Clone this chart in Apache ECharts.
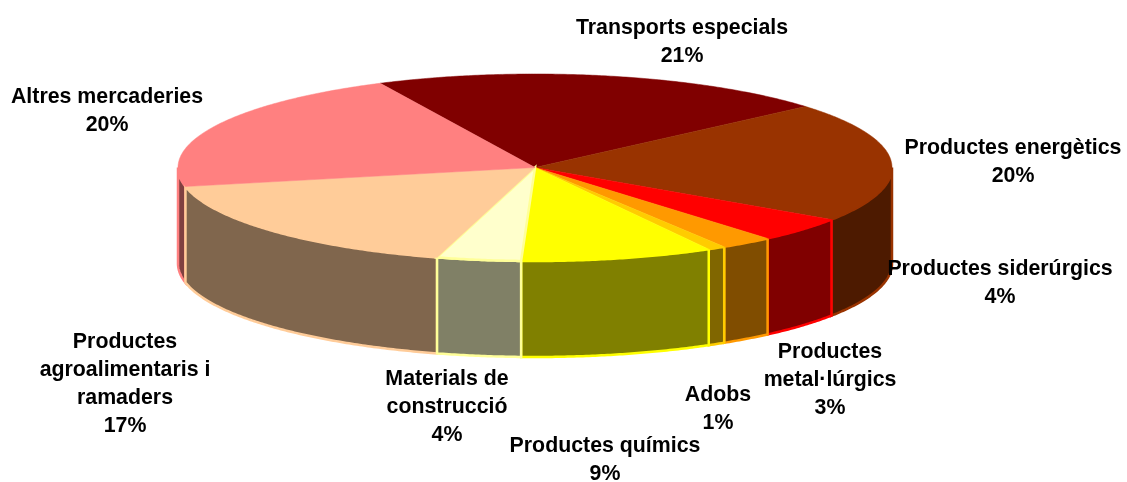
<!DOCTYPE html>
<html>
<head>
<meta charset="utf-8">
<style>html,body{margin:0;padding:0;background:#fff}#c{width:1127px;height:482px}</style>
<script src="https://cdn.jsdelivr.net/npm/echarts@6/dist/echarts.min.js"></script>
</head>
<body>
<div id="c"></div>
<script>
// Data, clockwise from the slice that starts at the back left
const categories = ['Transports especials','Productes energètics','Productes siderúrgics','Productes\nmetal·lúrgics','Adobs','Productes químics','Materials de\nconstrucció','Productes\nagroalimentaris i\nramaders','Altres mercaderies'];
// slice sizes as drawn in the picture
const values = [20.8,20.7,4.3,2.4,0.8,8.7,3.8,17.3,21.1];
// percentages as printed in the picture
const percentLabels = ['21%','20%','4%','3%','1%','9%','4%','17%','20%'];

// Styling and layout, separate from the data
const topColors = ['#800000','#993300','#FF0000','#FF9900','#FFCC00','#FFFF00','#FFFFCC','#FFCC99','#FF8080'];
const strokeColors = ['#800000','#993300','#FF0000','#FF9900','#FFCC00','#FFFF00','#FFFF99','#FFCC99','#FF8080'];
const wallColors = ['#400000','#4D1A00','#800000','#804D00','#806600','#808000','#808066','#80664D','#804040'];
const labelCentres = [[682,28],[1013,148],[1000,269],[830,352],[718,395],[605,446],[447,379],[125,342],[107,97]];
const CX = 535, CY = 167.5, RX = 357, RY = 93.5, DEPTH = 96, START = -25.7;
const LINE = 28;

const total = values.reduce((a, b) => a + b, 0);
const angles = [];
values.reduce((acc, v) => { angles.push([acc, acc + v / total * 360]); return acc + v / total * 360; }, START);

const pt = (t, dy) => {
  const r = t * Math.PI / 180;
  return [CX + RX * Math.sin(r), CY - RY * Math.cos(r) + (dy || 0)];
};
const arc = (a, b, dy) => {
  const n = Math.max(2, Math.ceil(Math.abs(b - a) / 0.5));
  const out = [];
  for (let i = 0; i <= n; i++) out.push(pt(a + (b - a) * i / n, dy));
  return out;
};

function renderWall(params) {
  const i = params.dataIndex;
  const a = Math.max(angles[i][0], 90), b = Math.min(angles[i][1], 270);
  if (b <= a) return null;
  const mid = (a + b) / 2;
  return {
    type: 'polygon',
    z2: Math.round(200 - Math.abs(mid - 180)),
    shape: { points: arc(a, b, 0).concat(arc(b, a, DEPTH)) },
    style: { fill: wallColors[i], stroke: strokeColors[i], lineWidth: 2.5, lineJoin: 'miter' }
  };
}
function renderTop(params) {
  const i = params.dataIndex;
  return {
    type: 'polygon',
    shape: { points: [[CX, CY]].concat(arc(angles[i][0], angles[i][1], 0)) },
    style: { fill: topColors[i], stroke: i === 6 ? strokeColors[i] : topColors[i], lineWidth: i === 6 ? 2.5 : 0.5 }
  };
}
function renderLabel(params) {
  const i = params.dataIndex;
  const c = labelCentres[i];
  return {
    type: 'text',
    style: {
      x: c[0], y: c[1] - LINE / 2,
      text: categories[i] + '\n' + percentLabels[i],
      align: 'center', verticalAlign: 'top',
      font: 'bold 21.33px "Liberation Sans", Arial, sans-serif',
      lineHeight: LINE, fill: '#000'
    }
  };
}

const chart = echarts.init(document.getElementById('c'), null, { renderer: 'canvas' });
const data = values.map((v, i) => ({ name: categories[i], value: v }));
const base = { type: 'custom', coordinateSystem: 'none', silent: true, animation: false, data };
chart.setOption({
  backgroundColor: '#fff',
  animation: false,
  series: [
    Object.assign({}, base, { renderItem: renderWall, z: 1 }),
    Object.assign({}, base, { renderItem: renderTop, z: 2 }),
    Object.assign({}, base, { renderItem: renderLabel, z: 3 })
  ]
});
</script>
</body>
</html>
